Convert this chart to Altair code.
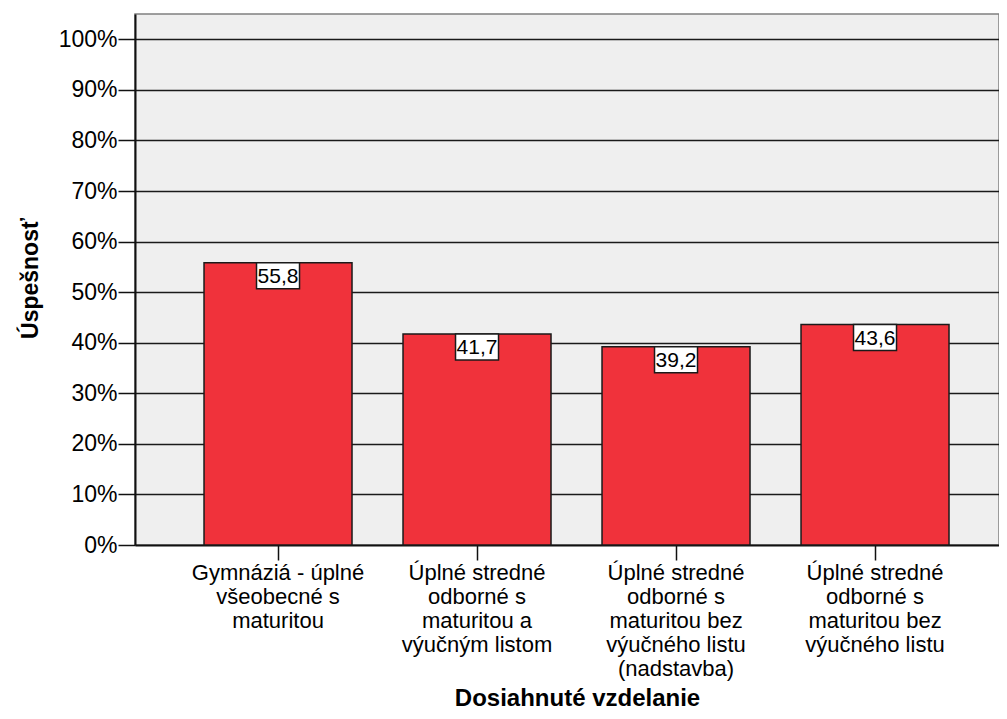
import altair as alt
import pandas as pd

categories = [
    "Gymnáziá - úplné\nvšeobecné s\nmaturitou",
    "Úplné stredné\nodborné s\nmaturitou a\nvýučným listom",
    "Úplné stredné\nodborné s\nmaturitou bez\nvýučného listu\n(nadstavba)",
    "Úplné stredné\nodborné s\nmaturitou bez\nvýučného listu",
]
values = [55.8, 41.7, 39.2, 43.6]
value_labels = ["55,8", "41,7", "39,2", "43,6"]
y_tick_values = list(range(0, 106, 5))

df = pd.DataFrame({"kat": categories, "val": values, "lab": value_labels})

FONT = "Liberation Sans"
BOX = "M-1,-0.6047L1,-0.6047L1,0.6047L-1,0.6047Z"

x_enc = alt.X(
    "kat:N",
    sort=None,
    title="Dosiahnuté vzdelanie",
    scale=alt.Scale(paddingInner=0.2563, paddingOuter=0.299, align=0.58),
    axis=alt.Axis(
        labelAngle=0,
        labelExpr="split(datum.label, '\\n')",
        labelFontSize=22,
        labelLineHeight=24,
        labelColor="#000",
        labelPadding=2,
        labelLimit=0,
        labelOverlap=False,
        tickSize=15,
        tickColor="#111",
        tickWidth=1.5,
        domainColor="#111",
        domainWidth=2,
        titleX=442,
        titleY=160,
        titleBaseline="alphabetic",
        titleFontSize=24,
        titleFontWeight="bold",
        titleColor="#000",
    ),
)

y_enc = alt.Y(
    "val:Q",
    title="Úspešnosť",
    scale=alt.Scale(domain=[0, 105], nice=False),
    axis=alt.Axis(
        values=y_tick_values,
        labelExpr="datum.value % 10 === 0 ? datum.value + '%' : ''",
        labelFontSize=23,
        labelColor="#000",
        labelPadding=1,
        tickSize={"condition": {"test": "datum.value % 10 === 0", "value": 17}, "value": 9},
        tickColor="#111",
        tickWidth=1.5,
        domainColor="#111",
        domainWidth=2,
        grid=True,
        gridColor="#1a1a1a",
        gridWidth=1.3,
        gridOpacity={"condition": {"test": "datum.value % 10 === 0 && datum.value > 0", "value": 1}, "value": 0},
        titleX=-98,
        titleY=264,
        titleBaseline="alphabetic",
        titleFontSize=23,
        titleFontWeight="bold",
        titleColor="#000",
    ),
)

base = alt.Chart(df)

bars = base.mark_bar(color="#F0323B", stroke="#1a1a1a", strokeWidth=1.5).encode(x=x_enc, y=y_enc)

boxes = base.mark_point(
    shape=BOX, size=1849, filled=True, fill="white", stroke="#1a1a1a",
    strokeWidth=1.5, opacity=1, yOffset=13,
).encode(x=alt.X("kat:N", sort=None), y=alt.Y("val:Q"))

texts = base.mark_text(fontSize=21, baseline="middle", yOffset=14, color="#000").encode(
    x=alt.X("kat:N", sort=None), y=alt.Y("val:Q"), text="lab:N"
)

chart = (
    alt.layer(bars, boxes, texts)
    .properties(
        width=864,
        height=531,
        autosize=alt.AutoSizeParams(type="none"),
        padding={"left": 127, "top": 6, "right": 0, "bottom": 166},
        background="white",
    )
    .configure(font=FONT)
    .configure_view(fill="#EFEFEF", stroke="#808080", strokeWidth=1.5)
)

chart.save("out.html", embed_options={"renderer": "svg", "actions": False})
